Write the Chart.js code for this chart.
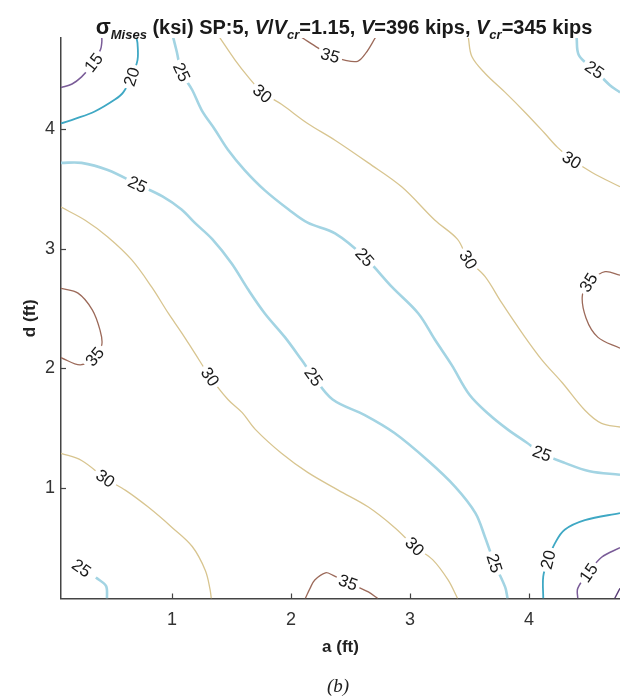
<!DOCTYPE html>
<html><head><meta charset="utf-8">
<script src="https://cdn.jsdelivr.net/npm/chart.js@4.4.1/dist/chart.umd.min.js"></script>
<style>html,body{margin:0;padding:0;background:#fff;}#wrap{width:620px;height:698px;position:relative;}</style>
</head><body><div id="wrap"><canvas id="c" width="620" height="698"></canvas></div>
<script>
// ---- axis ticks / ranges (ft)
const xTickValues = [1, 2, 3, 4];
const yTickValues = [1, 2, 3, 4];
const aRange = [0.067, 4.765];
const dRange = [0.075, 4.765];

// ---- contour lines, points are [a (ft), d (ft)]
const c15_top = [[0.067,4.35],[0.16,4.38],[0.24,4.44],[0.31,4.52],[0.36,4.60],[0.40,4.67],[0.41,4.73],[0.41,4.77]];
const c15_bottom = [[4.41,0.075],[4.41,0.16],[4.50,0.29],[4.61,0.42],[4.765,0.50]];
const c10_corner = [[4.72,0.075],[4.765,0.16]];
const c20_top = [[0.067,4.05],[0.19,4.09],[0.35,4.15],[0.52,4.25],[0.59,4.31],[0.66,4.44],[0.71,4.58],[0.71,4.72],[0.70,4.77]];
const c20_bottom = [[4.12,0.075],[4.12,0.26],[4.16,0.40],[4.22,0.54],[4.30,0.65],[4.47,0.73],[4.765,0.79]];
const c25_upper = [[1.01,4.77],[1.04,4.65],[1.08,4.48],[1.17,4.33],[1.25,4.16],[1.36,4.00],[1.47,3.83],[1.61,3.66],[1.78,3.49],[1.98,3.33],[2.14,3.22],[2.37,3.13],[2.62,2.93],[2.85,2.68],[3.07,2.46],[3.21,2.24],[3.35,2.03],[3.50,1.78],[3.67,1.61],[3.82,1.49],[3.98,1.38],[4.11,1.29],[4.30,1.21],[4.51,1.14],[4.765,1.11]];
const c25_topRight = [[4.40,4.77],[4.42,4.62],[4.55,4.50],[4.68,4.37],[4.765,4.31]];
const c25_lower = [[0.067,3.72],[0.24,3.72],[0.46,3.66],[0.71,3.54],[0.92,3.44],[1.08,3.33],[1.19,3.22],[1.34,3.08],[1.50,2.88],[1.64,2.66],[1.78,2.46],[1.95,2.26],[2.09,2.07],[2.19,1.93],[2.35,1.74],[2.62,1.61],[2.87,1.46],[3.15,1.23],[3.38,1.01],[3.55,0.79],[3.63,0.59],[3.71,0.37],[3.80,0.17],[3.82,0.075]];
const c25_corner = [[0.36,0.25],[0.445,0.18],[0.454,0.075]];
const c30_upper = [[1.40,4.77],[1.53,4.58],[1.64,4.44],[1.76,4.31],[1.92,4.21],[2.14,4.05],[2.37,3.91],[2.65,3.72],[2.93,3.52],[3.21,3.24],[3.40,3.08],[3.49,2.91],[3.63,2.77],[3.77,2.55],[3.94,2.30],[4.11,2.07],[4.28,1.88],[4.47,1.65],[4.61,1.54],[4.765,1.51]];
const c30_topRight = [[3.49,4.77],[3.52,4.61],[3.63,4.47],[3.80,4.31],[3.97,4.14],[4.13,3.97],[4.24,3.85],[4.36,3.75],[4.53,3.64],[4.765,3.52]];
const c30_middle = [[0.067,3.35],[0.27,3.24],[0.46,3.10],[0.66,2.91],[0.83,2.68],[0.97,2.46],[1.08,2.30],[1.19,2.13],[1.32,1.93],[1.47,1.74],[1.59,1.63],[1.70,1.49],[1.92,1.29],[2.14,1.13],[2.40,0.98],[2.65,0.84],[2.87,0.67],[3.04,0.51],[3.19,0.40],[3.32,0.23],[3.40,0.075]];
const c30_lower = [[0.067,1.29],[0.24,1.23],[0.44,1.08],[0.61,0.98],[0.80,0.84],[1.00,0.67],[1.17,0.51],[1.28,0.31],[1.32,0.15],[1.33,0.075]];
const c35_top = [[2.09,4.77],[2.23,4.68],[2.33,4.62],[2.45,4.58],[2.56,4.57],[2.63,4.64],[2.71,4.77]];
const c35_left = [[0.067,2.67],[0.21,2.63],[0.33,2.49],[0.395,2.32],[0.41,2.20],[0.35,2.10],[0.23,2.03],[0.067,2.09]];
const c35_bottom = [[2.12,0.075],[2.16,0.16],[2.20,0.23],[2.29,0.29],[2.35,0.27],[2.48,0.205],[2.65,0.13],[2.73,0.075]];
const c35_right = [[4.765,2.78],[4.64,2.81],[4.53,2.74],[4.45,2.62],[4.48,2.42],[4.58,2.26],[4.765,2.17]];

// ---- contour labels: [text, a, d, rotation deg]
const contourLabels = [
  ['15',0.34,4.56,-52],['20',0.66,4.44,-72],['25',1.08,4.48,65],['30',1.76,4.30,40],
  ['35',2.33,4.62,16],['25',4.55,4.50,35],['30',4.36,3.745,32],['25',0.71,3.54,25],
  ['25',2.62,2.93,48],['30',3.49,2.91,58],['35',4.50,2.72,-58],['35',0.35,2.10,-50],
  ['30',1.32,1.93,55],['25',2.19,1.93,55],['25',4.11,1.29,20],['30',0.44,1.08,35],
  ['30',3.04,0.51,45],['25',3.71,0.37,72],['20',4.16,0.40,-76],['15',4.50,0.29,-55],
  ['35',2.48,0.21,20],['25',0.24,0.33,35]
];

const levelStyle = {
  10:{color:'#5b3f78',width:1.4},
  15:{color:'#7a5c98',width:1.5},
  20:{color:'#3fa8c4',width:1.8},
  25:{color:'#a3d4e3',width:2.6},
  30:{color:'#d8c590',width:1.3},
  35:{color:'#9c6a5a',width:1.3}
};
const contours = [
  [10,c10_corner],[15,c15_top],[15,c15_bottom],[20,c20_top],[20,c20_bottom],
  [25,c25_upper],[25,c25_topRight],[25,c25_lower],[25,c25_corner],
  [30,c30_upper],[30,c30_topRight],[30,c30_middle],[30,c30_lower],
  [35,c35_top],[35,c35_left],[35,c35_bottom],[35,c35_right]
];

const datasets = contours.map(([lv,pts]) => ({
  label: String(lv),
  data: pts.map(p => ({x:p[0], y:p[1]})),
  showLine: true, pointRadius: 0, borderColor: levelStyle[lv].color,
  borderWidth: levelStyle[lv].width, tension: 0.35, fill: false
}));

const FONT = "'Liberation Sans', Arial, Helvetica, sans-serif";

const extras = {
  id: 'extras',
  afterDatasetsDraw(chart) {
    const {ctx, scales:{x, y}} = chart;
    ctx.save();
    ctx.font = '17px ' + FONT;
    ctx.textAlign = 'center'; ctx.textBaseline = 'middle';
    contourLabels.forEach(([t,a,d,ang]) => {
      const px = x.getPixelForValue(a), py = y.getPixelForValue(d);
      ctx.save();
      ctx.translate(px, py); ctx.rotate(ang*Math.PI/180);
      const w = ctx.measureText(t).width;
      ctx.fillStyle = '#fff';
      ctx.fillRect(-w/2-3, -8, w+6, 16);
      ctx.fillStyle = '#1a1a1a';
      ctx.fillText(t, 0, 1);
      ctx.restore();
    });
    ctx.restore();
  },
  afterDraw(chart) {
    const {ctx, chartArea:ca, scales:{x, y}} = chart;
    ctx.save();
    // inward tick marks
    ctx.strokeStyle = '#444'; ctx.lineWidth = 1.2;
    xTickValues.forEach(v => { const px = Math.round(x.getPixelForValue(v))+0.5; ctx.beginPath(); ctx.moveTo(px, ca.bottom); ctx.lineTo(px, ca.bottom-5); ctx.stroke(); });
    yTickValues.forEach(v => { const py = Math.round(y.getPixelForValue(v))+0.5; ctx.beginPath(); ctx.moveTo(ca.left, py); ctx.lineTo(ca.left+5, py); ctx.stroke(); });
    // title with sub/italic parts
    const segs = [
      ['σ','bold 22px',0],['Mises','bold italic 13px',5],[' (ksi) SP:5, ','bold 20px',0],
      ['V','bold italic 20px',0],['/','bold 20px',0],['V','bold italic 20px',0],['cr','bold italic 13px',5],
      ['=1.15, ','bold 20px',0],['V','bold italic 20px',0],['=396 kips, ','bold 20px',0],
      ['V','bold italic 20px',0],['cr','bold italic 13px',5],['=345 kips','bold 20px',0]
    ];
    let total = 0;
    segs.forEach(s => { ctx.font = s[1]+' '+FONT; total += ctx.measureText(s[0]).width; });
    let cx = 344 - total/2;
    ctx.fillStyle = '#1a1a1a'; ctx.textAlign = 'left'; ctx.textBaseline = 'alphabetic';
    segs.forEach(s => { ctx.font = s[1]+' '+FONT; ctx.fillText(s[0], cx, 34 + s[2]); cx += ctx.measureText(s[0]).width; });
    // caption
    ctx.font = "italic 19px 'Liberation Serif', 'Times New Roman', serif";
    ctx.textAlign = 'center'; ctx.textBaseline = 'middle';
    ctx.fillStyle = '#222';
    ctx.fillText('(b)', 338, 687);
    ctx.restore();
  }
};

new Chart(document.getElementById('c'), {
  type: 'scatter',
  data: { datasets },
  options: {
    responsive: false, animation: false, devicePixelRatio: 1,
    layout: { padding: { top: 38, right: 0, bottom: 40, left: 0 } },
    plugins: { legend: {display:false}, tooltip: {enabled:false}, title: {display:false} },
    scales: {
      x: {
        type: 'linear', position: 'bottom', min: aRange[0], max: aRange[1],
        afterBuildTicks: s => { s.ticks = xTickValues.map(v => ({value:v})); },
        afterFit: s => { s.height = 59.5; },
        grid: { drawOnChartArea: false, drawTicks: false },
        border: { display: true, color: '#444', width: 1.5 },
        ticks: { color: '#333', font: {size: 18, family: FONT}, padding: 11 },
        title: { display: true, text: 'a (ft)', color: '#222', font: {size: 17, weight: 'bold', family: FONT}, padding: {top:0, bottom:0} }
      },
      y: {
        type: 'linear', position: 'left', min: dRange[0], max: dRange[1],
        afterBuildTicks: s => { s.ticks = yTickValues.map(v => ({value:v})); },
        afterFit: s => { s.width = 61; },
        grid: { drawOnChartArea: false, drawTicks: false },
        border: { display: true, color: '#444', width: 1.5 },
        ticks: { color: '#333', font: {size: 18, family: FONT}, padding: 6 },
        title: { display: true, text: 'd (ft)', color: '#222', font: {size: 17, weight: 'bold', family: FONT}, padding: {top:20, bottom:0} }
      }
    }
  },
  plugins: [extras]
});
</script></body></html>
